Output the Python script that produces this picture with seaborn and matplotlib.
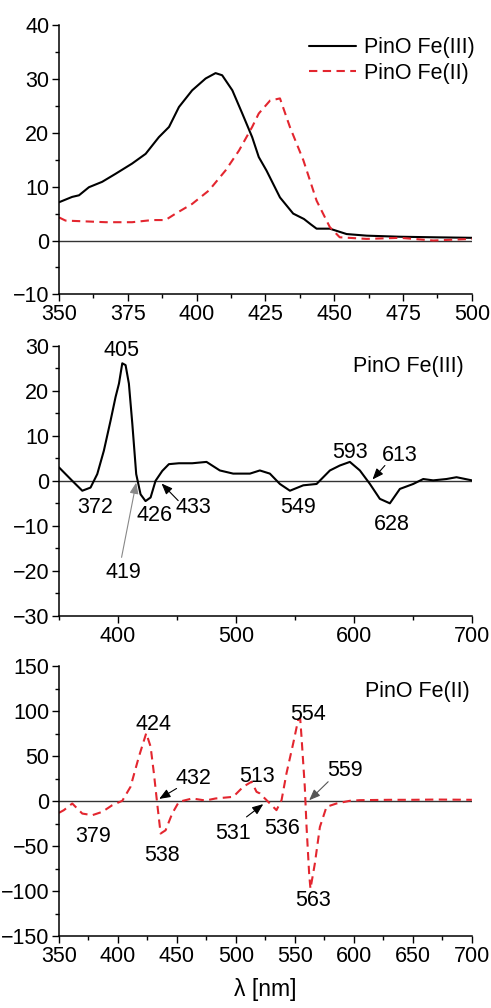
import numpy as np
import pandas as pd
import matplotlib
matplotlib.use("Agg")
import matplotlib.pyplot as plt
import seaborn as sns

# ---------------- data ----------------
# Panel 1: absorption spectra (350-500 nm)
wl_fe3 = [350, 354.8, 357.3, 360.9, 365.7, 370.6, 376.6, 381.5, 386.3, 390, 393.6, 398.4,
          403.3, 406.9, 409.3, 413, 416.6, 420.2, 422.6, 425.4, 430.3, 435.1, 439, 441.5,
          443.6, 448.4, 454.5, 461.8, 473.9, 486, 500]
abs_fe3 = [7.1, 8.1, 8.4, 9.9, 10.9, 12.4, 14.3, 16.1, 19.2, 21.1, 24.8, 27.9,
           30.1, 31.1, 30.7, 27.9, 23.6, 19.2, 15.5, 13.0, 8.0, 5.0, 4.0, 3.0,
           2.2, 2.2, 1.2, 0.9, 0.7, 0.6, 0.5]
wl_fe2 = [350, 352.4, 357.3, 367, 376.6, 383.9, 388.7, 392.4, 398.4, 404.5, 410.5, 415.4,
          420.2, 422.6, 426.7, 430.3, 433.9, 438.8, 443.6, 448.4, 452, 461.8, 473.9, 486, 500]
abs_fe2 = [4.3, 3.7, 3.6, 3.4, 3.4, 3.8, 3.8, 5.0, 6.8, 9.3, 13.0, 16.7,
           21.1, 23.6, 26.0, 26.4, 21.1, 14.9, 7.4, 2.5, 0.6, 0.3, 0.5, 0.0, 0.3]

# Panel 2: derivative spectrum PinO Fe(III) (350-700 nm)
wl_d3 = [350, 361.3, 369.8, 376.8, 382.5, 388.1, 393.8, 398, 400.9, 403.7, 406.5, 409.3,
         412.2, 415.5, 419.2, 423.4, 427.7, 431.9, 437.6, 443.2, 451.7, 463, 475.1, 486.4,
         497.7, 511.9, 520.3, 528.8, 537.3, 545.8, 557.1, 568.4, 579.7, 588.1, 596.6,
         605.1, 613.6, 622, 630.5, 639, 650.3, 658.8, 667.2, 678.5, 687, 700]
d_fe3 = [3.0, 0.0, -2.2, -1.5, 1.5, 6.7, 13.4, 18.6, 21.6, 26.1, 25.7, 21.6,
         12.7, 1.5, -3.0, -4.5, -3.7, 0.0, 2.2, 3.7, 3.9, 3.9, 4.2, 2.3,
         1.6, 1.6, 2.3, 1.6, -0.7, -2.2, -1.0, -0.7, 2.3, 3.4, 4.2,
         2.3, -0.7, -4.0, -5.0, -1.8, -0.7, 0.4, 0.1, 0.4, 0.8, 0.1]

# Panel 3: derivative spectrum PinO Fe(II) (350-700 nm)
wl_d2 = [350, 354.2, 361.3, 369.8, 378.3, 386.7, 395.2, 403.7, 410.7, 417.8, 424, 427.7,
         430.5, 433.3, 436.2, 440.4, 446, 451.7, 463, 474.3, 482.8, 497.7, 506.2, 513.3,
         517.5, 520.3, 526, 534.4, 538.7, 542.9, 548.6, 552.8, 554.5, 555.6, 558.4, 559.9,
         562.1, 563.2, 566.9, 571.2, 576.8, 585.3, 596.6, 605, 630, 650, 670, 700]
d_fe2 = [-13, -10, -2.6, -13.8, -15.6, -11.9, -4.5, 0.4, 16, 49.5, 75.6, 60.7,
         31, -2.6, -36, -32.4, -13.8, -0.7, 3.0, 0.7, 3.0, 4.8, 16, 21.6,
         10.4, 8.6, 1.1, -10, 1.1, 31, 64.4, 90.5, 92, 71.8, 16, -28.7,
         -80.8, -97.5, -69.6, -28.7, -6.3, -2.6, 0.4, 1.1, 1.5, 1.5, 1.8, 1.5]

series_names = ["PinO Fe(III)", "PinO Fe(II)"]

# peak labels
p2_labels = ["405", "372", "419", "426", "433", "549", "593", "613", "628"]
p3_labels = ["424", "379", "432", "538", "513", "531", "536", "554", "559", "563"]

# ---------------- layout ----------------
p2_text_xy = [(403, 29), (380.5, -5.9), (404.5, -20.3), (431.4, -7.7), (463.8, -5.9),
              (552.8, -5.9), (596.6, 6.4), (639, 5.6), (631.9, -9.6)]
p2_arrows = {"419": ((403.1, -17.0), (415.5, -0.4), "#888888"),
             "433": ((451.1, -4.4), (437.0, -0.6), "black"),
             "613": ((626.3, 3.4), (615.8, 0.3), "black")}

p3_text_xy = [(430, 84.8), (379, -39.8), (463.8, 25.3), (437.6, -60.3), (517.5, 27.2),
              (497.7, -36.1), (538.7, -30.5), (561.3, 96), (592.4, 33.9), (565.5, -110.5)]
p3_arrows = {"432": ((449.7, 14.1), (435.0, 2.5), "black"),
             "531": ((509.0, -17.5), (523.2, -3.3), "black"),
             "559": ((578.2, 21.6), (562.1, 1.0), "#555555")}

RED = "#e3262f"
DASH = (0, (4, 2.6))

sns.set_theme(style="ticks")
plt.rcParams["font.family"] = ["Liberation Sans", "DejaVu Sans"]
plt.rcParams["axes.linewidth"] = 1.1
plt.rcParams["text.color"] = "black"
plt.rcParams["axes.labelcolor"] = "black"
plt.rcParams["xtick.color"] = "black"
plt.rcParams["ytick.color"] = "black"
FS = 15.5

fig = plt.figure(figsize=(4.91, 10.08), dpi=100)
L, R = 0.120, 0.961
ax1 = fig.add_axes([L, 0.708, R - L, 0.975 - 0.708])
ax2 = fig.add_axes([L, 0.389, R - L, 0.657 - 0.389])
ax3 = fig.add_axes([L, 0.0714, R - L, 0.339 - 0.0714])


def style(ax):
    sns.despine(ax=ax)
    for s in ["left", "bottom"]:
        ax.spines[s].set_color("black")
    ax.tick_params(axis="both", which="major", direction="out", length=5, width=1.0,
                   labelsize=FS, colors="black", pad=2)
    ax.tick_params(axis="both", which="minor", direction="out", length=3, width=1.0,
                   colors="black")
    ax.axhline(0, color="#333333", lw=1.0, zorder=1)


def label_peaks(ax, labels, text_xy, arrows):
    for lab, (tx, ty) in zip(labels, text_xy):
        ax.text(tx, ty, lab, ha="center", va="center", fontsize=FS, color="black")
        if lab in arrows:
            start, end, c = arrows[lab]
            ax.annotate("", xy=end, xytext=start,
                        arrowprops=dict(arrowstyle="-|>,head_length=0.55,head_width=0.22",
                                        color=c, lw=0.8, shrinkA=0, shrinkB=0))


# Panel 1
df1 = pd.DataFrame({"x": wl_fe3, "y": abs_fe3})
df2 = pd.DataFrame({"x": wl_fe2, "y": abs_fe2})
sns.lineplot(data=df1, x="x", y="y", ax=ax1, color="black", lw=1.5, label=series_names[0])
sns.lineplot(data=df2, x="x", y="y", ax=ax1, color=RED, lw=1.5, ls=DASH, label=series_names[1])
ax1.set_xlim(350, 500)
ax1.set_ylim(-10, 40)
ax1.set_xticks(np.arange(350, 501, 25))
ax1.set_xticks(np.arange(362.5, 500, 25), minor=True)
ax1.set_yticks(np.arange(-10, 41, 10))
ax1.set_yticks(np.arange(-5, 40, 10), minor=True)
style(ax1)
leg = ax1.legend(loc="upper left", frameon=False, fontsize=FS, handlelength=2.2,
                 handletextpad=0.35, borderaxespad=0.0, borderpad=0.0, labelspacing=0.2,
                 bbox_to_anchor=(0.605, 0.955))
for t in leg.get_texts():
    t.set_color("black")
ax1.set_xlabel("")
ax1.set_ylabel("")

# Panel 2
df3 = pd.DataFrame({"x": wl_d3, "y": d_fe3})
sns.lineplot(data=df3, x="x", y="y", ax=ax2, color="black", lw=1.5)
ax2.set_xlim(350, 700)
ax2.set_ylim(-30, 30)
ax2.set_xticks([400, 500, 600, 700])
ax2.set_xticks([350, 450, 550, 650], minor=True)
ax2.set_yticks(np.arange(-30, 31, 10))
ax2.set_yticks(np.arange(-25, 30, 10), minor=True)
style(ax2)
ax2.set_xlabel("")
ax2.set_ylabel("")
ax2.text(693, 25.5, series_names[0], ha="right", va="center", fontsize=FS, color="black")
label_peaks(ax2, p2_labels, p2_text_xy, p2_arrows)

# Panel 3
df4 = pd.DataFrame({"x": wl_d2, "y": d_fe2})
sns.lineplot(data=df4, x="x", y="y", ax=ax3, color=RED, lw=1.5, ls=DASH)
ax3.set_xlim(350, 700)
ax3.set_ylim(-150, 150)
ax3.set_xticks(np.arange(350, 701, 50))
ax3.set_xticks(np.arange(375, 700, 50), minor=True)
ax3.set_yticks(np.arange(-150, 151, 50))
ax3.set_yticks(np.arange(-125, 150, 50), minor=True)
style(ax3)
ax3.set_ylabel("")
ax3.set_xlabel("λ [nm]", fontsize=FS + 1, labelpad=8, color="black")
ax3.text(698, 122, series_names[1], ha="right", va="center", fontsize=FS, color="black")
label_peaks(ax3, p3_labels, p3_text_xy, p3_arrows)

fig.savefig("out.png", dpi=100)
